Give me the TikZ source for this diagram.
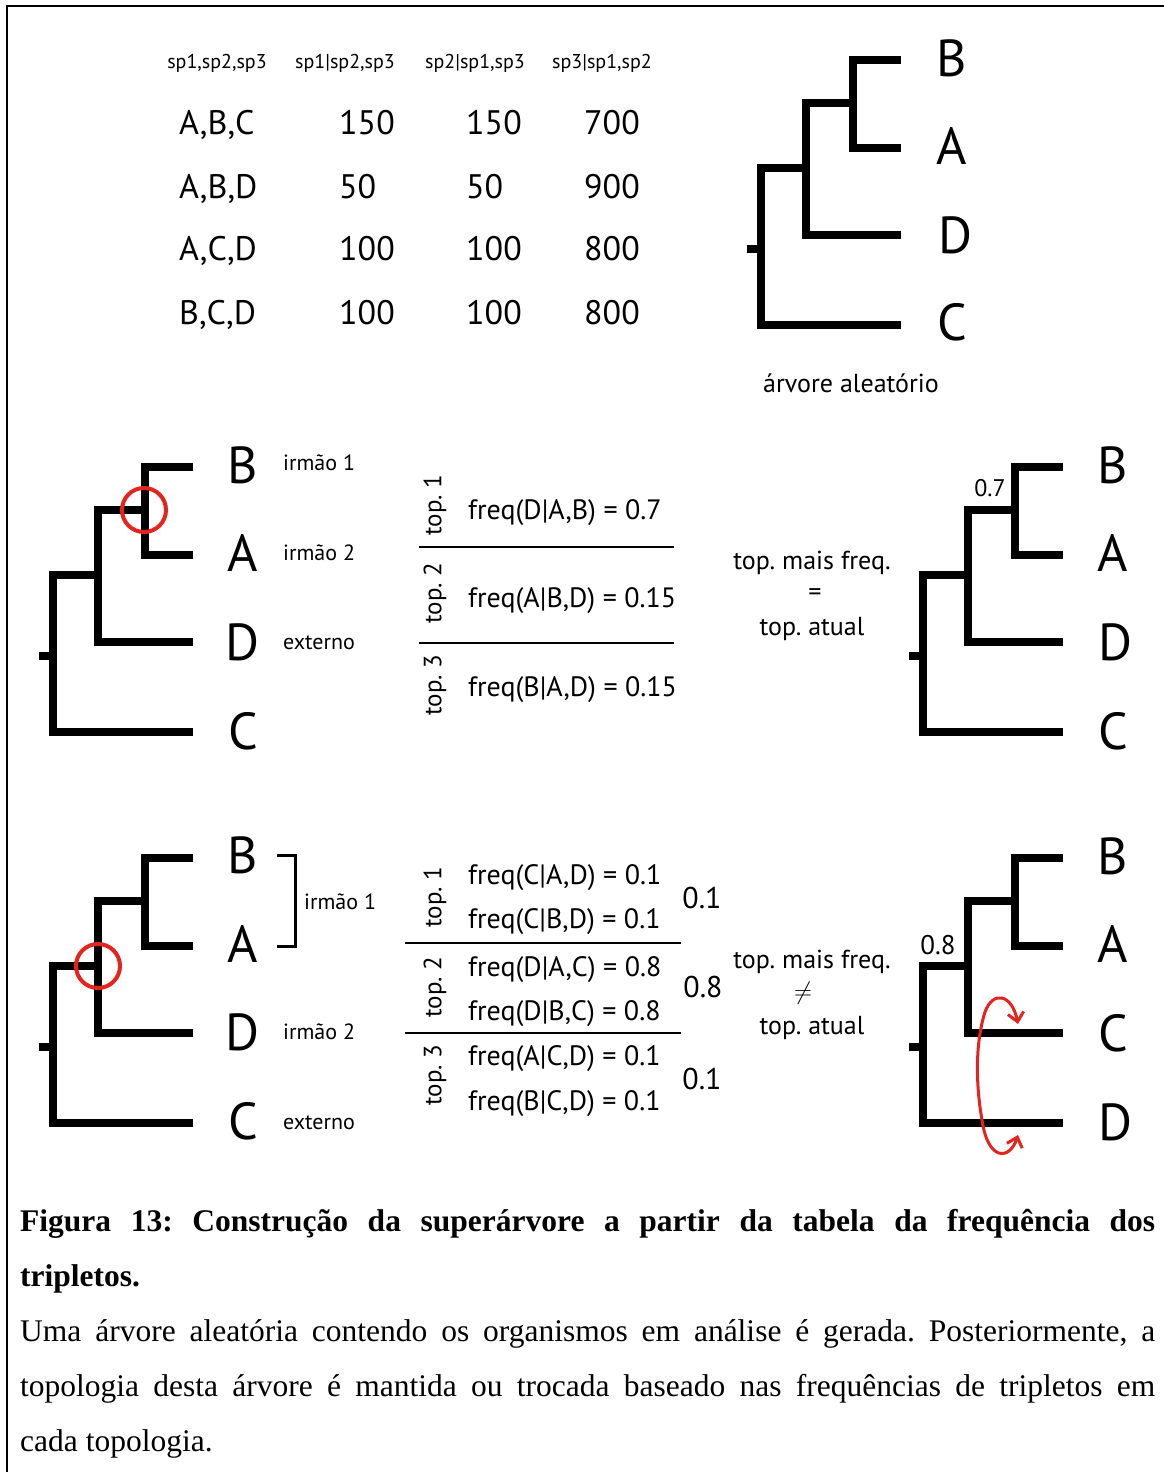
\documentclass[tikz,border=0pt]{standalone}
\usepackage{fontspec}
\setmainfont{Liberation Serif}
\newfontfamily\dsans{PT Sans}
\usetikzlibrary{arrows.meta}
\newcommand\fsz[1]{\fontsize{#1}{#1}\selectfont}
\definecolor{mark}{RGB}{228,36,30}
\frenchspacing

\begin{document}
\begin{tikzpicture}[x=1pt,y=-1pt,
  branch/.style={line width=8pt, line join=miter},
  tip/.style={font=\dsans\fsz{52}, inner sep=0pt, anchor=center},
  head/.style={font=\dsans\fsz{20}, inner sep=0pt, anchor=center},
  cell/.style={font=\dsans\fsz{34}, inner sep=0pt, anchor=mid west},
  role/.style={font=\dsans\fsz{22}, inner sep=0pt, anchor=mid west},
  topo/.style={font=\dsans\fsz{25}, inner sep=0pt, anchor=center, rotate=90},
  freq/.style={font=\dsans\fsz{28}, inner sep=0pt, anchor=mid west},
  note/.style={font=\dsans\fsz{26}, inner sep=0pt, anchor=center},
  score/.style={font=\dsans\fsz{30}, inner sep=0pt, anchor=center},
  support/.style={font=\dsans\fsz{#1}, inner sep=0pt, anchor=center},
  rule/.style={line width=1.8pt},
  ring/.style={circle, draw=mark, line width=4pt, minimum size=44pt, inner sep=0pt},
  swap/.style={draw=mark, line width=3pt, {Straight Barb[length=9pt,width=16pt]}-{Straight Barb[length=9pt,width=16pt]}},
  capb/.style={font=\bfseries\fsz{31.5}, inner sep=0pt, anchor=base west},
  capt/.style={font=\fsz{31.5}, inner sep=0pt, anchor=base west},
  phylo/.pic={
    \draw[branch] (193,467) -- (145,467) -- (145,555) -- (193,555);
    \draw[branch] (145,510) -- (98,510) -- (98,642) -- (193,642);
    \draw[branch] (98,575) -- (53,575) -- (53,732) -- (193,732);
    \draw[branch] (39,656) -- (53,656);
  }
]
\useasboundingbox (0,0) rectangle (1164,1472);
\fill[white] (0,0) rectangle (1164,1472);

% frame
\draw[line width=2.5pt] (7,1472) -- (7,6) -- (1164,6);

% triplet table
\node[head] (h1) at (217,63) {sp1,sp2,sp3};
\node[head] (h2) at (345,63) {sp1|sp2,sp3};
\node[head] (h3) at (475,63) {sp2|sp1,sp3};
\node[head] (h4) at (602,63) {sp3|sp1,sp2};

\node[cell] (r1c1) at (179,132) {A,B,C};
\node[cell] (r1c2) at (339,132) {150};
\node[cell] (r1c3) at (466,132) {150};
\node[cell] (r1c4) at (584,132) {700};
\node[cell] (r2c1) at (179,196) {A,B,D};
\node[cell] (r2c2) at (339,196) {50};
\node[cell] (r2c3) at (466,196) {50};
\node[cell] (r2c4) at (584,196) {900};
\node[cell] (r3c1) at (179,258) {A,C,D};
\node[cell] (r3c2) at (339,258) {100};
\node[cell] (r3c3) at (466,258) {100};
\node[cell] (r3c4) at (584,258) {800};
\node[cell] (r4c1) at (179,322) {B,C,D};
\node[cell] (r4c2) at (339,322) {100};
\node[cell] (r4c3) at (466,322) {100};
\node[cell] (r4c4) at (584,322) {800};

% random starting tree
\pic at (708,-407) {phylo};
\node[tip] (t0b) at (952,58) {B};
\node[tip] (t0a) at (952,146) {A};
\node[tip] (t0d) at (955,235) {D};
\node[tip] (t0c) at (952,322) {C};
\node[note] (t0cap) at (851,383) {árvore aleatório};

% first step: node B,A
\pic at (0,0) {phylo};
\node[tip] (t1b) at (243,465) {B};
\node[tip] (t1a) at (243,553) {A};
\node[tip] (t1d) at (243,642) {D};
\node[tip] (t1c) at (243,731) {C};
\node[role] (t1r1) at (283,468) {irmão 1};
\node[role] (t1r2) at (283,558) {irmão 2};
\node[role] (t1r3) at (283,647) {externo};
\node[ring] (ring1) at (144,510) {};

\node[topo] (p1) at (435,505) {top. 1};
\node[topo] (p2) at (435,593) {top. 2};
\node[topo] (p3) at (435,685) {top. 3};
\node[freq] (f1) at (468,517) {freq(D|A,B) = 0.7};
\node[freq] (f2) at (468,605) {freq(A|B,D) = 0.15};
\node[freq] (f3) at (468,694) {freq(B|A,D) = 0.15};
\draw[rule] (419,547) -- (674,547);
\draw[rule] (419,643) -- (674,643);

\node[note] (m1) at (812,563) {top. mais freq.};
\node[note] (m2) at (815,595) {=};
\node[note] (m3) at (812,629) {top. atual};

\pic at (870,0) {phylo};
\node[tip] (t2b) at (1113,465) {B};
\node[tip] (t2a) at (1113,553) {A};
\node[tip] (t2d) at (1115,642) {D};
\node[tip] (t2c) at (1113,731) {C};
\node[support=24] (s2) at (990,488) {0.7};

% second step: node (B,A),D
\pic at (0,391) {phylo};
\node[tip] (t3b) at (243,855) {B};
\node[tip] (t3a) at (243,944) {A};
\node[tip] (t3d) at (243,1032) {D};
\node[tip] (t3c) at (243,1121) {C};
\draw[line width=3pt] (277,855) -- (295,855) -- (295,946) -- (277,946);
\node[role] (t3r1) at (304,907) {irmão 1};
\node[role] (t3r2) at (283,1037) {irmão 2};
\node[role] (t3r3) at (283,1127) {externo};
\node[ring] (ring2) at (98,966) {};

\node[topo] (q1) at (435,897) {top. 1};
\node[topo] (q2) at (435,987) {top. 2};
\node[topo] (q3) at (435,1075) {top. 3};
\node[freq] (g1) at (468,882) {freq(C|A,D) = 0.1};
\node[freq] (g2) at (468,926) {freq(C|B,D) = 0.1};
\node[freq] (g3) at (468,974) {freq(D|A,C) = 0.8};
\node[freq] (g4) at (468,1018) {freq(D|B,C) = 0.8};
\node[freq] (g5) at (468,1063) {freq(A|C,D) = 0.1};
\node[freq] (g6) at (468,1108) {freq(B|C,D) = 0.1};
\draw[rule] (405,943) -- (681,943);
\draw[rule] (405,1033) -- (681,1033);
\node[score] (w1) at (702,898) {0.1};
\node[score] (w2) at (703,987) {0.8};
\node[score] (w3) at (702,1079) {0.1};

\node[note] (n1) at (812,962) {top. mais freq.};
\node[note, font=\fsz{24}] (n2) at (803,993) {$\neq$};
\node[note] (n3) at (812,1028) {top. atual};

\pic at (870,391) {phylo};
\node[tip] (t4b) at (1113,856) {B};
\node[tip] (t4a) at (1113,944) {A};
\node[tip] (t4c) at (1113,1033) {C};
\node[tip] (t4d) at (1115,1122) {D};
\node[support=27] (s4) at (938,945) {0.8};

% swap of C and D
\coordinate (sw1) at (1018,1135);
\coordinate (sw2) at (1018,1024);
\draw[swap] (sw1) .. controls (1010,1160) and (988,1162) .. (982,1120)
  .. controls (975,1080) and (976,1040) .. (985,1012)
  .. controls (993,990) and (1012,994) .. (sw2);

% caption
\node[capb] (c1) at (20,1231) {\makebox[1135pt][s]{Figura 13: Construção da superárvore a partir da tabela da frequência dos}};
\node[capb] (c2) at (20,1286) {tripletos.};
\node[capt] (c3) at (20,1341) {\makebox[1135pt][s]{Uma árvore aleatória contendo os organismos em análise é gerada. Posteriormente, a}};
\node[capt] (c4) at (20,1396) {\makebox[1135pt][s]{topologia desta árvore é mantida ou trocada baseado nas frequências de tripletos em}};
\node[capt] (c5) at (20,1451) {cada topologia.};
\end{tikzpicture}
\end{document}
